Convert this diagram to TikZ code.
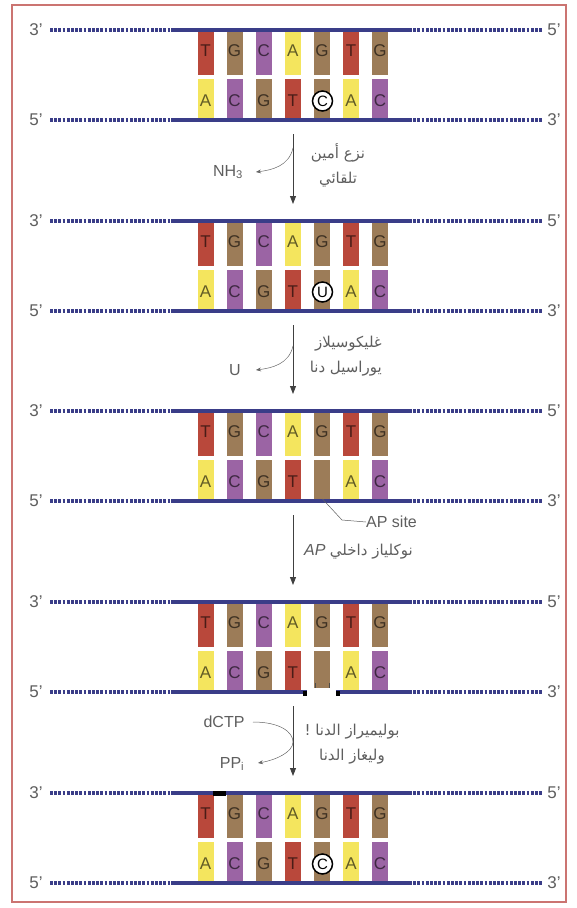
\documentclass[tikz,border=0pt]{standalone}
\usepackage{fontspec}
\setmainfont{Liberation Sans}
\newfontfamily\arabicfont[Script=Arabic]{DejaVu Sans}
\TeXXeTstate=1
\usepackage{xcolor}
\usetikzlibrary{arrows.meta}

\definecolor{backbone}{HTML}{3A3D88}
\definecolor{baseT}{HTML}{B9483B}
\definecolor{baseG}{HTML}{9C7C58}
\definecolor{baseC}{HTML}{9B64A4}
\definecolor{baseA}{HTML}{F4E55E}
\definecolor{framered}{HTML}{CB7471}
\definecolor{labelgray}{HTML}{5E5E5E}

% one double strand: #1 = y of the upper backbone, #2 = prefix of its node names
\newcommand{\duplex}[2]{%
  \foreach \i/\tl/\tc/\bl/\bc in {1/T/baseT/A/baseA,2/G/baseG/C/baseC,3/C/baseC/G/baseG,
      4/A/baseA/T/baseT,5/G/baseG//baseG,6/T/baseT/A/baseA,7/G/baseG/C/baseC}{
    \pgfmathsetmacro\xc{205.5+29.1*(\i-1)}
    \fill[\tc] (\xc-8,#1+2) rectangle (\xc+8,#1+45);
    \node[basetext] (#2t\i) at (\xc,#1+21) {\tl};
    \fill[\bc] (\xc-8,#1+49) rectangle (\xc+8,#1+89);
    \node[basetext] (#2b\i) at (\xc,#1+71) {\bl};
  }
  \draw[dots] (50,#1) -- (171,#1);
  \draw[strand] (171,#1) -- (409,#1);
  \draw[dots] (409,#1) -- (543,#1);
  \draw[dots] (50,#1+90) -- (171,#1+90);
  \draw[strand] (171,#1+90) -- (409,#1+90);
  \draw[dots] (409,#1+90) -- (543,#1+90);
  \node[strandend] (#2tl) at (36,#1) {3’};
  \node[strandend] (#2tr) at (554,#1) {5’};
  \node[strandend] (#2bl) at (36,#1+90) {5’};
  \node[strandend] (#2br) at (554,#1+90) {3’};
}

\begin{document}
\begin{tikzpicture}[x=1pt,y=-1pt,
  every node/.style={inner sep=0pt},
  basetext/.style={font=\fontsize{17}{17}\selectfont, text=black, text opacity=0.6},
  strand/.style={draw=backbone, line width=4.5pt},
  dots/.style={draw=backbone, line width=4.5pt, dash pattern=on 2.8pt off 1.4pt},
  strandend/.style={font=\fontsize{17}{17}\selectfont, text=labelgray},
  lesion/.style={circle, draw=black, line width=1.5pt, fill=white, minimum size=20pt,
    font=\fontsize{15}{15}\selectfont},
  label/.style={font=\fontsize{16}{18}\selectfont, text=labelgray},
  enzyme/.style={font=\arabicfont\fontsize{15}{25}\selectfont, text=labelgray},
  flow/.style={draw=black!75, line width=0.9pt, -{Triangle[length=8pt,width=6pt]}},
  branch/.style={draw=black!60, line width=0.5pt, -{Stealth[length=5pt,width=4pt]}}]
\useasboundingbox (0,0) rectangle (576,908);
\draw[framered, line width=1.5pt] (12,5) rectangle (566,902);

% the five stages of the repair
\duplex{30}{s1}
\duplex{221}{s2}
\duplex{411}{s3}
\duplex{602}{s4}
\duplex{793}{s5}

\node[lesion] (c1) at (322.5,101) {C};
\node[lesion] (u2) at (322.5,292) {U};
\node[lesion] (c5) at (322.5,864) {C};

% nick left in the lower backbone
\fill[white] (307,688) rectangle (336,696);
\fill[black] (303,691) rectangle (307,695.5);
\fill[black] (336,691) rectangle (340,695.5);
\draw[black!70, line width=0.6pt] (315.5,683) -- (315.5,688);
\draw[black!70, line width=0.6pt] (329.5,683) -- (329.5,688);
\fill[black] (213,791) rectangle (226,796);

% step 1
\coordinate (a1s) at (293,134);
\coordinate (a1e) at (293,204);
\draw[flow] (a1s) -- (a1e);
\node[label] (nh3) at (228,172) {NH\textsubscript{3}};
\coordinate (b1) at (293,148);
\coordinate (b1e) at (256,172);
\draw[branch] (b1) .. controls (289,166) and (272,170) .. (b1e);
\node[enzyme, align=center] (e1) at (338,165) {\beginR نزع أمين\endR\\\beginR تلقائي\endR};

% step 2
\coordinate (a2s) at (293,325);
\coordinate (a2e) at (293,394);
\draw[flow] (a2s) -- (a2e);
\node[label] (u) at (235,370) {U};
\coordinate (b2) at (293,346);
\coordinate (b2e) at (256,370);
\draw[branch] (b2) .. controls (289,364) and (272,368) .. (b2e);
\node[enzyme, align=right, anchor=east] (e2) at (382,356) {\beginR غليكوسيلاز\endR\\\beginR يوراسيل دنا\endR};

% step 3
\coordinate (ap) at (322.5,499);
\coordinate (apk) at (342,520);
\node[label, anchor=west] (apsite) at (366,522) {AP site};
\draw[labelgray, line width=0.5pt] (ap) -- (apk) -- (apsite.west);
\coordinate (a3s) at (293,515);
\coordinate (a3e) at (293,585);
\draw[flow] (a3s) -- (a3e);
\node[label, anchor=west] (e3) at (304,552) {\textit{AP} {\arabicfont\fontsize{15}{15}\selectfont\beginR نوكلياز داخلي\endR}};

% step 4
\coordinate (a4s) at (293,706);
\coordinate (a4e) at (293,776);
\draw[flow] (a4s) -- (a4e);
\node[label] (dctp) at (224,722) {dCTP};
\node[label] (ppi) at (232,764) {PP\textsubscript{i}};
\coordinate (b4) at (253,722);
\coordinate (b4e) at (258,763);
\draw[branch] (b4) .. controls (280,722) and (293,732) .. (293,742)
  .. controls (293,752) and (276,760) .. (b4e);
\node[enzyme, align=center] (e4) at (352,744) {\beginR بوليميراز الدنا !\endR\\\beginR وليغاز الدنا\endR};
\end{tikzpicture}
\end{document}
